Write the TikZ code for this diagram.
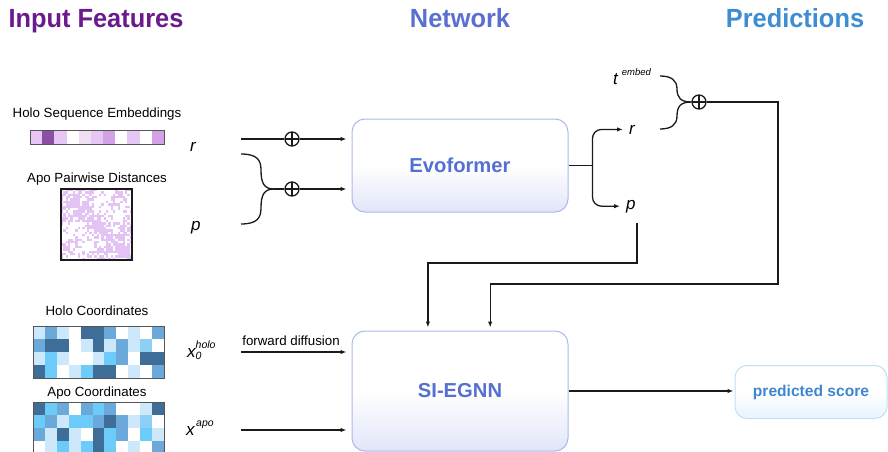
\documentclass[tikz,border=0pt]{standalone}
\usepackage{fontspec}
\setmainfont{Liberation Sans}
\usetikzlibrary{arrows.meta,calc}

% palette
\definecolor{titlePurple}{HTML}{6A1A8C}
\definecolor{titleIndigo}{HTML}{5A6FD0}
\definecolor{titleBlue}{HTML}{3E8DD2}
\definecolor{linec}{HTML}{1A1A1A}
\definecolor{evoline}{HTML}{A9B9EE}
\definecolor{evobot}{HTML}{E1E5F8}
\definecolor{evotext}{HTML}{5570D0}
\definecolor{predline}{HTML}{BFE0F7}
\definecolor{predbot}{HTML}{E8F3FC}
\definecolor{predtext}{HTML}{3E86D1}
\definecolor{gridline}{HTML}{555555}
% sequence strip
\definecolor{sL}{HTML}{E5C6F4}
\definecolor{sD}{HTML}{8C4FA6}
\definecolor{sV}{HTML}{EEDFF3}
\definecolor{sM}{HTML}{D3A2E6}
\definecolor{pw}{HTML}{E2C3F3}
% coordinate grids
\definecolor{cL}{HTML}{CDE8FA}
\definecolor{cM}{HTML}{6AA9D9}
\definecolor{cB}{HTML}{6DCBFA}
\definecolor{cD}{HTML}{3E6E97}
\definecolor{cP}{HTML}{8DD0F6}

\newcommand{\labfont}{\fontsize{13.3}{16}\selectfont}
\newcommand{\supfont}{\fontsize{10.5}{12}\selectfont\itshape}
\newcommand{\headtext}[1]{\scalebox{0.965}[1]{#1}}

\begin{document}
\begin{tikzpicture}[x=1pt,y=-1pt,
  wire/.style={line width=1.3pt, draw=linec},
  arr/.style={wire, -{Latex[length=6pt,width=4.5pt]}, shorten >=3pt},
  oplus/.style={circle, draw=linec, line width=1.3pt, minimum size=14pt, inner sep=0pt,
    path picture={\draw[linec, line width=1.3pt]
      (path picture bounding box.north) -- (path picture bounding box.south)
      (path picture bounding box.west) -- (path picture bounding box.east);}},
  title/.style={font=\fontsize{26.3}{30}\selectfont\bfseries, inner sep=0pt, anchor=base},
  lab/.style={font=\labfont, inner sep=0pt, anchor=base},
  var/.style={font=\fontsize{17}{20}\selectfont\itshape, inner sep=1pt, anchor=base west},
  blockbox/.style={rounded corners=13pt, draw=evoline, line width=1pt,
    top color=white, bottom color=evobot, middle color=white,
    text=evotext, font=\fontsize{20.2}{24}\selectfont\bfseries,
    minimum width=216pt, inner sep=0pt},
  predbox/.style={rounded corners=12pt, draw=predline, line width=1pt,
    top color=white, bottom color=predbot, middle color=white,
    text=predtext, font=\fontsize{15.6}{18}\selectfont\bfseries,
    minimum width=152pt, minimum height=53pt, inner sep=0pt}
]
\useasboundingbox (0,0) rectangle (888,452);

% column headings
\node[title, text=titlePurple] (hIn)  at (96,27.5)  {\headtext{Input Features}};
\node[title, text=titleIndigo] (hNet) at (460,27.5) {\headtext{Network}};
\node[title, text=titleBlue]   (hPr)  at (795,27.5) {\headtext{Predictions}};

% ---------- input features ----------
\node[lab] (lSeq) at (97,117) {Holo Sequence Embeddings};
\foreach \c [count=\k from 0] in {sL,sD,sL,white,sV,sL,sM,white,sL,white,sM}
  \fill[\c] (30+\k*12.18,130) rectangle ++(12.18,14);
\draw[gridline, line width=0.8pt] (30,130) rectangle (164,144);

% pairwise distance map: symmetric, dense near the diagonal,
% with a few off-diagonal contact patches
\node[lab] (lPair) at (97,182) {Apo Pairwise Distances};
\pgfmathsetseed{5}
\foreach \i in {0,...,29}{
  \foreach \j in {\i,...,29}{
    \pgfmathsetmacro\pv{0.9*exp(-(\j-\i)/7)+0.08
      +0.45*((\i<9)&&(\j>20))+0.35*((\i>12)&&(\i<19)&&(\j>24))
      +0.3*((\i<5)&&(\j>8)&&(\j<15))}
    \pgfmathsetmacro\rv{rnd}
    \ifdim\rv pt<\pv pt
      \fill[pw] (61+\i*2.367,189+\j*2.367) rectangle ++(2.367,2.367);
      \fill[pw] (61+\j*2.367,189+\i*2.367) rectangle ++(2.367,2.367);
    \fi
  }
}
\draw[linec, line width=1.2pt] (61,189) rectangle (132,260);

\node[lab] (lHolo) at (97,315) {Holo Coordinates};
\foreach \row [count=\r from 0] in {
  {cL,cM,cL,white,cD,cD,cM,white,cL,white,cM},
  {cM,cD,cD,white,cL,cD,cL,cM,cL,cP,white},
  {cL,cB,cL,white,white,cL,cB,cM,white,cD,cD},
  {cD,cB,white,cL,cB,cD,cD,white,cL,white,cM}}{
  \foreach \c [count=\k from 0] in \row
    \fill[\c] (33+\k*11.909,326+\r*13) rectangle ++(11.909,13);
}
\draw[gridline, line width=0.8pt] (33,326) rectangle (164,378);

\node[lab] (lApo) at (97,396) {Apo Coordinates};
\foreach \row [count=\r from 0] in {
  {cD,cB,cM,white,cM,cB,cM,white,white,cL,cD},
  {cB,cM,cL,cB,cB,cM,cD,cM,cL,cP,white},
  {cM,cL,cD,cL,white,cD,cB,cM,white,cB,cL},
  {white,cL,cB,cL,cB,cD,cB,white,cL,white,cM}}{
  \foreach \c [count=\k from 0] in \row
    \fill[\c] (33+\k*11.909,402+\r*13) rectangle ++(11.909,13);
}
\draw[gridline, line width=0.8pt] (33,454) -- (33,402) -- (164,402) -- (164,454);

% ---------- feature symbols ----------
\node[var] (r1) at (189,151) {r};
\node[var] (p1) at (190,230) {p};
\node[var] (x0) at (186,357)
  {x\rlap{\raisebox{9pt}{\supfont holo}}\raisebox{-2.5pt}{\supfont 0}};
\node[var] (xa) at (185,435) {x\hspace{1.5pt}\raisebox{8.5pt}{\supfont apo}};

% ---------- network blocks ----------
\node[blockbox, minimum height=93pt]  (evo) at (460,165.5) {Evoformer};
\node[blockbox, minimum height=120pt] (si)  at (460,391)   {SI-EGNN};
\node[predbox] (pred) at (811,392) {predicted score};

% sum nodes
\node[oplus] (op1) at (292,139) {};
\node[oplus] (op2) at (292,189) {};
\node[oplus] (op3) at (699,102) {};

% ---------- connectors into the Evoformer ----------
\coordinate (rin) at (241,139);
\draw[wire] (rin) -- (op1);
\draw[arr, shorten >=5pt] (op1) -- (op1 -| evo.west);

\coordinate (rb) at (241,154);
\coordinate (pb) at (241,224);
\coordinate (j1) at (274,189);
\draw[wire] (rb) .. controls (257,154) and (261,160) .. (261,170)
                 .. controls (261,183) and (264,189) .. (j1);
\draw[wire] (pb) .. controls (257,224) and (261,218) .. (261,208)
                 .. controls (261,195) and (264,189) .. (j1);
\draw[wire] (j1) -- (op2);
\draw[arr, shorten >=5pt] (op2) -- (op2 -| evo.west);

% ---------- Evoformer outputs ----------
\node[var] (r2) at (628,134) {r};
\node[var] (p2) at (625,209) {p};
\draw[wire] (evo.east) -- ++(24,0) coordinate (br);
\draw[arr, rounded corners=9pt, shorten >=5pt] (br) |- (r2.west);
\draw[arr, rounded corners=9pt, shorten >=5pt] (br) |- (p2.west);

% time embedding joins the single representation
\node[var] (t) at (612,84) {t\hspace{4pt}\raisebox{9pt}{\fontsize{9.5}{11}\selectfont\itshape embed}};
\coordinate (tend) at (660,76);
\coordinate (rend) at (660,129);
\draw[wire] (tend) .. controls (671,76) and (677,80) .. (677,89)
                   .. controls (677,98) and (681,102) .. (op3.west);
\draw[wire] (rend) .. controls (671,129) and (677,125) .. (677,116)
                   .. controls (677,106) and (681,102) .. (op3.west);

% ---------- connectors into SI-EGNN ----------
\coordinate (pdrop) at (637,223);
\draw[arr] (pdrop) -- ++(0,40) -| ($(si.north west)!0.352!(si.north east)$);
\draw[arr] (op3) -- ++(79,0) -- ++(0,182) -| ($(si.north west)!0.639!(si.north east)$);

\coordinate (xin) at (241,352);
\node[lab] (fd) at (291,345) {forward diffusion};
\draw[arr, shorten >=5pt] (xin) -- (xin -| si.west);
\coordinate (ain) at (241,430);
\draw[arr, shorten >=5pt] (ain) -- (ain -| si.west);

% ---------- prediction ----------
\draw[arr, shorten >=1pt] (si.east) -- (si.east -| pred.west);
\end{tikzpicture}
\end{document}
